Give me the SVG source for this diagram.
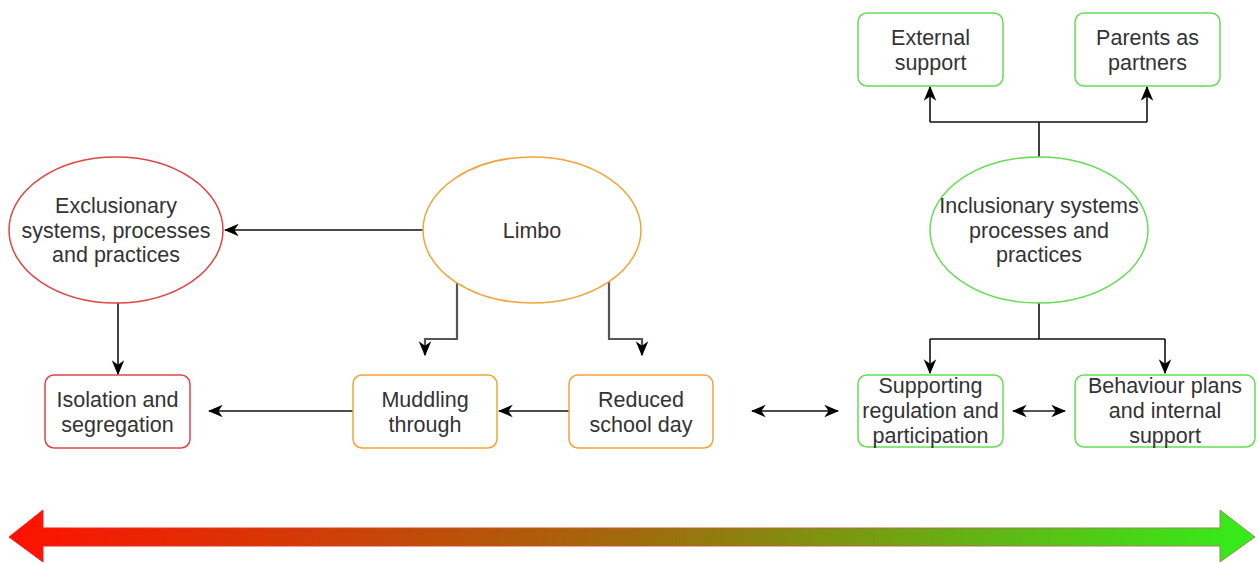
<svg xmlns="http://www.w3.org/2000/svg" width="1258" height="563" viewBox="0 0 1258 563">
<style>
text{font-family:"Liberation Sans",Arial,sans-serif;font-size:21.5px;fill:#333;text-anchor:middle}
.red{fill:#fff;stroke:#e04545;stroke-width:1.5}
.org{fill:#fff;stroke:#f2a33a;stroke-width:1.5}
.grn{fill:#fff;stroke:#66dd55;stroke-width:1.5}
.c{fill:none;stroke:#111;stroke-width:1.6}
.g{fill:none;stroke:#555;stroke-width:2.2}
</style>
<defs>
<marker id="a" viewBox="0 0 12 12" refX="11" refY="6" markerWidth="15" markerHeight="15" markerUnits="userSpaceOnUse" orient="auto-start-reverse">
<path d="M0,1 L12,6 L0,11 L3.5,6 z" fill="#000"/>
</marker>
<linearGradient id="bg" x1="0" y1="0" x2="1" y2="0">
<stop offset="0" stop-color="#ff1100"/>
<stop offset="0.5" stop-color="#a06a0c"/>
<stop offset="1" stop-color="#33ee1a"/>
</linearGradient>
<linearGradient id="bs" x1="0" y1="0" x2="1" y2="0">
<stop offset="0" stop-color="#ee2020"/>
<stop offset="1" stop-color="#9a8a55"/>
</linearGradient>
</defs>
<g id="connectors">
<path class="c" d="M423,230 L225,230" marker-end="url(#a)"/>
<path class="c" d="M118,303 L118,374" marker-end="url(#a)"/>
<path class="c" d="M353,411 L209,411" marker-end="url(#a)"/>
<path class="c" d="M569,411 L499,411" marker-end="url(#a)"/>
<path class="g" d="M457,282 L457,339 L425,339 L425,355" marker-end="url(#a)"/>
<path class="g" d="M609,282 L609,339 L642,339 L642,355" marker-end="url(#a)"/>
<path class="c" d="M1039,157 L1039,122"/>
<path class="c" d="M930,122 L1147,122"/>
<path class="c" d="M930,122 L930,87" marker-end="url(#a)"/>
<path class="c" d="M1147,122 L1147,87" marker-end="url(#a)"/>
<path class="c" d="M1039,303 L1039,339"/>
<path class="c" d="M930,339 L1165,339"/>
<path class="c" d="M930,339 L930,373" marker-end="url(#a)"/>
<path class="c" d="M1165,339 L1165,373" marker-end="url(#a)"/>
<path class="c" d="M752,411 L838,411" marker-start="url(#a)" marker-end="url(#a)"/>
<path class="g" d="M1013,411 L1065,411" marker-start="url(#a)" marker-end="url(#a)"/>
</g>
<g id="exclusionary"><ellipse class="red" cx="116" cy="230" rx="107" ry="73"/><text x="116" y="213">Exclusionary</text><text x="116" y="237.5">systems, processes</text><text x="116" y="262">and practices</text></g>
<g id="isolation"><rect class="red" x="45" y="375" width="145" height="73" rx="9"/><text x="117.5" y="407">Isolation and</text><text x="117.5" y="432">segregation</text></g>
<g id="limbo"><ellipse class="org" cx="532" cy="230" rx="109" ry="73"/><text x="532" y="238">Limbo</text></g>
<g id="muddling"><rect class="org" x="353" y="375" width="144" height="73" rx="9"/><text x="425" y="407">Muddling</text><text x="425" y="432">through</text></g>
<g id="reduced"><rect class="org" x="569" y="375" width="144" height="73" rx="9"/><text x="641" y="407">Reduced</text><text x="641" y="432">school day</text></g>
<g id="external"><rect class="grn" x="858" y="13" width="145" height="73" rx="9"/><text x="930.5" y="45">External</text><text x="930.5" y="70">support</text></g>
<g id="parents"><rect class="grn" x="1075" y="13" width="145" height="73" rx="9"/><text x="1147.5" y="45">Parents as</text><text x="1147.5" y="70">partners</text></g>
<g id="inclusionary"><ellipse class="grn" cx="1039" cy="230" rx="109" ry="73"/><text x="1039" y="213">Inclusionary systems</text><text x="1039" y="238">processes and</text><text x="1039" y="262">practices</text></g>
<g id="supporting"><rect class="grn" x="858" y="375" width="145" height="72" rx="9"/><text x="930.5" y="393">Supporting</text><text x="930.5" y="418">regulation and</text><text x="930.5" y="443">participation</text></g>
<g id="behaviour"><rect class="grn" x="1075" y="375" width="180" height="72" rx="9"/><text x="1165" y="393">Behaviour plans</text><text x="1165" y="418">and internal</text><text x="1165" y="443">support</text></g>
<g id="scale">
<polygon points="9,537 43,510 43,528 1220,528 1220,510 1255,537 1220,562 1220,546 43,546 43,562" fill="url(#bg)" stroke="url(#bs)" stroke-width="1"/>
</g>
</svg>
